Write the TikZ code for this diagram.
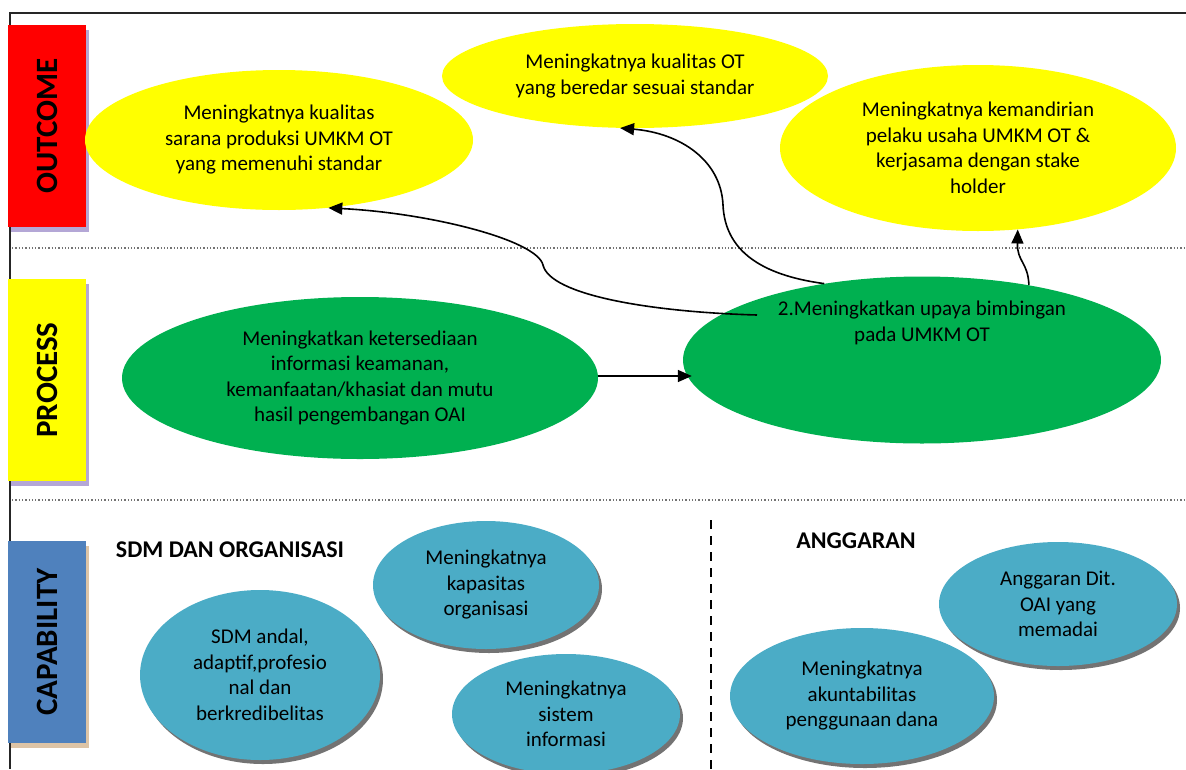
\documentclass[tikz,border=0pt]{standalone}
\usepackage{fontspec}
\setmainfont{Carlito}
\usetikzlibrary{shapes.geometric, arrows.meta, positioning, calc, shadows}
\definecolor{outYellow}{HTML}{FFFF00}
\definecolor{procGreen}{HTML}{00B050}
\definecolor{capTeal}{HTML}{4BACC6}
\definecolor{capBlue}{HTML}{4F81BD}
\definecolor{shLavender}{HTML}{B4A7D6}
\definecolor{shTan}{HTML}{DDC4A6}

\begin{document}
\begin{tikzpicture}[x=1pt, y=-1pt,
  sidebox/.style={rectangle, minimum width=78pt, minimum height=202pt, inner sep=0pt,
    font=\fontsize{31}{31}\selectfont\bfseries},
  lavshadow/.style={drop shadow={shadow xshift=3pt, shadow yshift=-5pt, fill=shLavender, opacity=1}},
  tanshadow/.style={drop shadow={shadow xshift=3pt, shadow yshift=-5pt, fill=shTan, opacity=1}},
  bubble/.style={ellipse, inner sep=0pt, align=center, font=\fontsize{21}{25.5}\selectfont},
  outc/.style={bubble, fill=outYellow},
  proc/.style={bubble, fill=procGreen},
  capa/.style={bubble, fill=capTeal,
    drop shadow={shadow xshift=3pt, shadow yshift=-4pt, fill=black!55, opacity=1}},
  head/.style={font=\fontsize{24}{24}\selectfont\bfseries},
  arrow/.style={-{Triangle[length=14pt, width=12pt]}, line width=1.6pt}
]
  \useasboundingbox (0,0) rectangle (1186,769);

  % Frame and separators
  \draw[line width=2pt, black!85] (1186,13) -- (10,13) -- (10,769);
  \draw[dotted, line width=1.3pt, black!55] (12,248) -- (1186,248);
  \draw[dotted, line width=1.3pt, black!55] (12,500) -- (1186,500);
  \draw[line width=2pt, dash pattern=on 9pt off 7pt] (711,520) -- (711,769);

  % Row labels
  \node[sidebox, fill=red, lavshadow] (outcome) at (47,126) {\rotatebox{90}{OUTCOME}};
  \node[sidebox, fill=outYellow, lavshadow] (process) at (47,380) {\rotatebox{90}{PROCESS}};
  \node[sidebox, fill=capBlue, tanshadow] (capability) at (47,642) {\rotatebox{90}{CAPABILITY}};

  % Outcome
  \node[outc, minimum width=388pt, minimum height=140pt] (e1) at (279,140)
    {Meningkatnya kualitas\\sarana produksi UMKM OT\\yang memenuhi standar};
  \node[outc, minimum width=386pt, minimum height=104pt] (e2) at (635,76)
    {Meningkatnya kualitas OT\\yang beredar sesuai standar};
  \node[outc, minimum width=396pt, minimum height=166pt] (e3) at (978,148)
    {Meningkatnya kemandirian\\pelaku usaha UMKM OT \&\\kerjasama dengan stake\\holder};

  % Process
  \node[proc, minimum width=476pt, minimum height=162pt] (p1) at (360,378)
    {Meningkatkan ketersediaan\\informasi keamanan,\\kemanfaatan/khasiat dan mutu\\hasil pengembangan OAI};
  \node[proc, minimum width=478pt, minimum height=164pt, text depth=78pt] (p2) at (922,360)
    {2.Meningkatkan upaya bimbingan\\pada UMKM OT};

  % Capability
  \node[head] (sdm) at (230,550) {SDM DAN ORGANISASI};
  \node[head] (angg) at (856,541) {ANGGARAN};
  \node[capa, minimum width=240pt, minimum height=170pt] (c1) at (260,675)
    {SDM andal,\\adaptif,profesio\\nal dan\\berkredibelitas};
  \node[capa, minimum width=226pt, minimum height=128pt] (c2) at (486,585)
    {Meningkatnya\\kapasitas\\organisasi};
  \node[capa, minimum width=228pt, minimum height=120pt] (c3) at (566,714)
    {Meningkatnya\\sistem\\informasi};
  \node[capa, minimum width=264pt, minimum height=136pt] (c4) at (862,696)
    {Meningkatnya\\akuntabilitas\\penggunaan dana};
  \node[capa, minimum width=238pt, minimum height=124pt] (c5) at (1058,604)
    {Anggaran Dit.\\OAI yang\\memadai};

  % Arrows
  \draw[arrow] ($(p1.east)+(0,-2)$) -- ($(p2.west)+(9,16)$);
  \draw[arrow] ($(p2.center)+(-165,-45)$) .. controls (650,312) and (550,295) .. (543,265)
    .. controls (537,240) and (430,213) .. (e1.-54);
  \draw[arrow] (p2.142) .. controls (760,275) and (725,250) .. (723,205)
    .. controls (721,160) and (680,133) .. (e2.-106);
  \draw[arrow] (p2.35) .. controls (1028,262) and (1017,262) .. (e3.-64);
\end{tikzpicture}
\end{document}
